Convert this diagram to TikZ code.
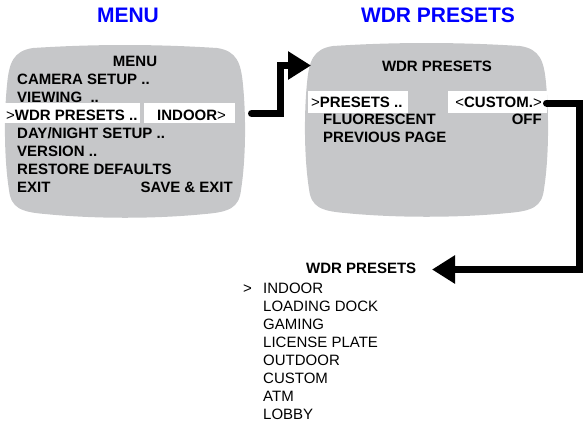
\documentclass[tikz,border=0pt]{standalone}
\usepackage{fontspec}
\setmainfont{Liberation Sans}
\usetikzlibrary{arrows.meta}
\definecolor{screengray}{RGB}{198,199,201}
\definecolor{titleblue}{RGB}{0,0,255}
\newcommand\tvscreen[4]{%
\fill[screengray] ({#1+28},{#2+3}) .. controls ({#1+90},{#2-1}) and ({#3-90},{#2-1}) .. ({#3-28},{#2+3})
 .. controls ({#3-8},{#2+6}) and ({#3-4},{#2+18}) .. ({#3-2},{#2+40})
 .. controls ({#3+1},{#2+70}) and ({#3+1},{#4-60}) .. ({#3-4},{#4-28})
 .. controls ({#3-6},{#4-10}) and ({#3-16},{#4-6}) .. ({#3-40},{#4-4})
 .. controls ({#3-90},{#4+1}) and ({#1+90},{#4+1}) .. ({#1+40},{#4-4})
 .. controls ({#1+16},{#4-6}) and ({#1+6},{#4-10}) .. ({#1+4},{#4-28})
 .. controls ({#1-1},{#4-60}) and ({#1-1},{#2+70}) .. ({#1+2},{#2+40})
 .. controls ({#1+4},{#2+18}) and ({#1+8},{#2+6}) .. ({#1+28},{#2+3}) -- cycle;}
\begin{document}
\begin{tikzpicture}[x=1pt,y=-1pt,
  title/.style={font=\fontsize{21}{25}\selectfont\bfseries, text=titleblue, inner sep=0pt, anchor=base},
  bt/.style={font=\fontsize{15}{18}\selectfont\bfseries, inner sep=0pt, anchor=base west},
  rt/.style={font=\fontsize{15}{18}\selectfont, inner sep=0pt, anchor=base west},
  hl/.style={fill=white, draw=none, inner sep=0pt, anchor=north west},
  conn/.style={line width=7pt, line cap=round, -{Triangle[length=23pt,width=27pt]}}]
\useasboundingbox (0,0) rectangle (585,424);
% titles
\node[title] (t1) at (128,22) {MENU};
\node[title] (t2) at (438,22) {WDR PRESETS};
% screens
\tvscreen{5}{45}{245}{218}
\tvscreen{305}{43}{548}{217}
% highlight boxes
\node[hl, minimum width=137pt, minimum height=20pt] (h1) at (3,103) {};
\node[hl, minimum width=91pt, minimum height=20pt] (h2) at (144,103) {};
\node[hl, minimum width=100pt, minimum height=22pt] (h3) at (308,91) {};
\node[hl, minimum width=99pt, minimum height=22pt] (h4) at (448,91) {};
% screen 1 text
\node[bt, anchor=base] (m0) at (135,66.4) {MENU};
\node[bt] (m1) at (17,84.4) {CAMERA SETUP ..};
\node[bt] (m2) at (17,102.4) {VIEWING\ \ ..};
\node[bt] (m3) at (6,120) {{\mdseries >}WDR PRESETS ..};
\node[bt] (m3b) at (157,120) {INDOOR{\mdseries >}};
\node[bt] (m4) at (17,138.4) {DAY/NIGHT SETUP ..};
\node[bt] (m5) at (17,156.4) {VERSION ..};
\node[bt] (m6) at (17,174.4) {RESTORE DEFAULTS};
\node[bt] (m7) at (17,192.4) {EXIT};
\node[bt, anchor=base east] (m7b) at (233,192.4) {SAVE \& EXIT};
% screen 2 text
\node[bt, anchor=base] (w0) at (437,71.4) {WDR PRESETS};
\node[bt] (w1) at (311,107.4) {{\mdseries >}PRESETS ..};
\node[bt, anchor=base east] (w1b) at (542,107.4) {{\mdseries <}CUSTOM.{\mdseries >}};
\node[bt] (w2) at (323,124.9) {FLUORESCENT};
\node[bt, anchor=base east] (w2b) at (542,124.9) {OFF};
\node[bt] (w3) at (323,142.6) {PREVIOUS PAGE};
% list
\node[bt] (l0) at (306,273.4) {WDR PRESETS};
\node[rt] (lp) at (243,293.4) {>};
\node[rt] (l1) at (263,293.4) {INDOOR};
\node[rt] (l2) at (263,311.4) {LOADING DOCK};
\node[rt] (l3) at (263,329.4) {GAMING};
\node[rt] (l4) at (263,347.4) {LICENSE PLATE};
\node[rt] (l5) at (263,365.4) {OUTDOOR};
\node[rt] (l6) at (263,383.4) {CUSTOM};
\node[rt] (l7) at (263,401.4) {ATM};
\node[rt] (l8) at (263,419.4) {LOBBY};
% connectors
\coordinate (a1s) at (251.5,113.5);
\coordinate (a1e) at (311,65.5);
\coordinate (a2s) at (546.5,103);
\coordinate (a2e) at (432,269.5);
\draw[conn] (a1s) -- (280,113.5) -- (280,65.5) -- (a1e);
\draw[conn] (a2s) -- (579,103) -- (579,269.5) -- (a2e);
\end{tikzpicture}
\end{document}
